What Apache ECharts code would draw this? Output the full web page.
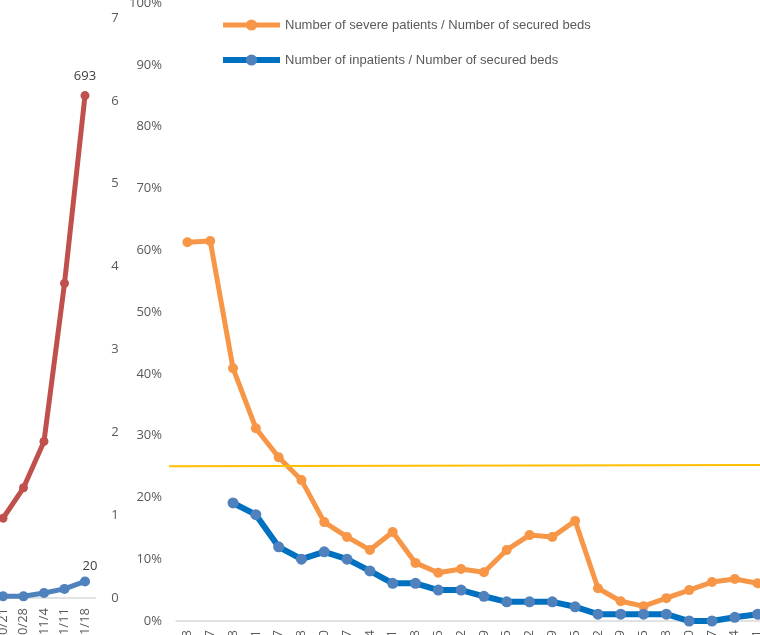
<!DOCTYPE html>
<html>
<head>
<meta charset="utf-8">
<script src="https://cdn.jsdelivr.net/npm/echarts@6/dist/echarts.min.js"></script>
<style>
html,body{margin:0;padding:0;background:#fff;}
#chart{width:760px;height:635px;}
</style>
</head>
<body>
<div id="chart"></div>
<script>
// Left (partially visible) chart
const leftCategories = ['10/21','10/28','11/4','11/11','11/18'];
const leftRedValues = [110, 152, 216, 434, 693];
const leftBlueValues = [2, 2, 6, 11, 20];

// Right chart
const rightCategories = ['6/18','6/27','7/8','7/21','7/27','8/8','8/20','8/27','9/4','9/11','9/18','9/25','10/2','10/9','10/15','10/22','10/29','11/5','11/12','11/19','11/25','12/8','12/10','12/17','12/24','12/31'];
const severeName = 'Number of severe patients / Number of secured beds';
const inpatientName = 'Number of inpatients / Number of secured beds';
const severeRatio = [61.3,61.5,40.9,31.2,26.5,22.8,16.0,13.6,11.5,14.4,9.4,7.8,8.4,7.9,11.5,13.9,13.6,16.2,5.3,3.2,2.4,3.7,5.0,6.3,6.8,6.1];
const inpatientRatio = [null,null,19.1,17.2,12.0,10.0,11.2,10.0,8.1,6.1,6.1,5.0,5.0,4.0,3.1,3.1,3.1,2.3,1.1,1.1,1.1,1.1,0,0,0.6,1.1];
const thresholdX = [0, 1];
const thresholdY = [25.05, 25.25];

const axisFont = {fontFamily: 'Open Sans', fontSize: 13, color: '#595959'};

const chart = echarts.init(document.getElementById('chart'), null, {renderer: 'canvas'});
const lastIdx = leftCategories.length - 1;
chart.setOption({
  animation: false,
  backgroundColor: '#ffffff',
  legend: {
    orient: 'vertical',
    left: 220,
    top: 18,
    padding: 0,
    itemWidth: 57,
    itemHeight: 14,
    itemGap: 21,
    data: [
      {name: severeName, lineStyle: {width: 5, color: '#F79646'}},
      {name: inpatientName, lineStyle: {width: 6, color: '#0070C0'}}
    ],
    textStyle: {fontFamily: 'Liberation Sans', fontSize: 13, color: '#595959', lineHeight: 14}
  },
  grid: [
    {left: -7.25, width: 102.5, top: 18, bottom: 37, outerBoundsMode: 'none'},
    {left: 176, width: 593, top: 3, bottom: 14, outerBoundsMode: 'none'},
    {left: 169, right: 0, top: 3, bottom: 14, outerBoundsMode: 'none'}
  ],
  xAxis: [
    {gridIndex: 0, type: 'category', data: leftCategories, boundaryGap: true,
     axisLine: {lineStyle: {color: '#D9D9D9', width: 1.5}}, axisTick: {show: false},
     axisLabel: Object.assign({rotate: 90, interval: 0, margin: 10}, axisFont)},
    {gridIndex: 1, type: 'category', data: rightCategories, boundaryGap: true,
     axisLine: {lineStyle: {color: '#D9D9D9', width: 1.5}}, axisTick: {show: false},
     axisLabel: Object.assign({rotate: 90, interval: 0, margin: 9}, axisFont)},
    {gridIndex: 2, type: 'value', min: 0, max: 1, show: false}
  ],
  yAxis: [
    {gridIndex: 0, type: 'value', min: 0, max: 7, interval: 1, position: 'right',
     axisLine: {show: false}, axisTick: {show: false}, splitLine: {show: false},
     axisLabel: Object.assign({margin: 16, align: 'left'}, axisFont)},
    {gridIndex: 0, type: 'value', min: 0, max: 800, show: false, splitLine: {show: false}},
    {gridIndex: 0, type: 'value', min: 0, max: 700, show: false, splitLine: {show: false}},
    {gridIndex: 1, type: 'value', min: 0, max: 100, interval: 10, position: 'left',
     axisLine: {show: false}, axisTick: {show: false}, splitLine: {show: false},
     axisLabel: Object.assign({margin: 14, formatter: '{value}%'}, axisFont)},
    {gridIndex: 2, type: 'value', min: 0, max: 100, show: false, splitLine: {show: false}}
  ],
  series: [
    {type: 'line', xAxisIndex: 0, yAxisIndex: 1, data: leftRedValues,
     symbol: 'circle', symbolSize: 9, lineStyle: {color: '#C0504D', width: 5}, itemStyle: {color: '#C0504D'},
     label: {show: true, position: 'top', distance: 8, fontFamily: 'Open Sans', fontSize: 13, color: '#404040',
       formatter: p => p.dataIndex === lastIdx ? String(p.value) : ''}},
    {type: 'line', xAxisIndex: 0, yAxisIndex: 2, data: leftBlueValues,
     symbol: 'circle', symbolSize: 10, lineStyle: {color: '#4F81BD', width: 5}, itemStyle: {color: '#4F81BD'},
     label: {show: true, position: 'top', distance: 4, offset: [5, 0], fontFamily: 'Open Sans', fontSize: 13, color: '#404040',
       formatter: p => p.dataIndex === lastIdx ? String(p.value) : ''}},
    {name: severeName, type: 'line', xAxisIndex: 1, yAxisIndex: 3, data: severeRatio,
     symbol: 'circle', symbolSize: 10, lineStyle: {color: '#F79646', width: 5}, itemStyle: {color: '#F79646'}},
    {name: inpatientName, type: 'line', xAxisIndex: 1, yAxisIndex: 3, data: inpatientRatio,
     symbol: 'circle', symbolSize: 11, lineStyle: {color: '#0070C0', width: 6}, itemStyle: {color: '#4F81BD'}},
    {type: 'line', xAxisIndex: 2, yAxisIndex: 4, z: 5, data: thresholdX.map((x, i) => [x, thresholdY[i]]),
     symbol: 'none', lineStyle: {color: '#FFC000', width: 2}}
  ]
});
</script>
</body>
</html>
